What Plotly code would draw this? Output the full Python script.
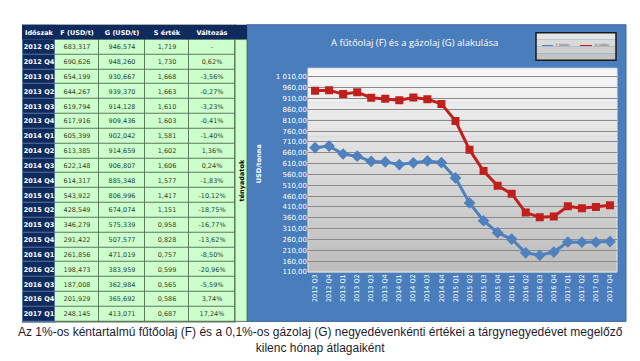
import plotly.graph_objects as go

# ---------------- data ----------------
periods = ["2012 Q3", "2012 Q4", "2013 Q1", "2013 Q2", "2013 Q3", "2013 Q4",
           "2014 Q1", "2014 Q2", "2014 Q3", "2014 Q4", "2015 Q1", "2015 Q2",
           "2015 Q3", "2015 Q4", "2016 Q1", "2016 Q2", "2016 Q3", "2016 Q4",
           "2017 Q1", "2017 Q2", "2017 Q3", "2017 Q4"]

f_vals = [683.317, 690.626, 654.199, 644.267, 619.794, 617.916, 605.399, 613.385,
          622.148, 614.317, 543.922, 428.549, 346.279, 291.422, 261.856, 198.473,
          187.008, 201.929, 248.145, 247.0, 247.0, 250.0]
g_vals = [946.574, 948.260, 930.667, 939.370, 914.128, 909.436, 902.042, 914.659,
          906.807, 885.348, 806.996, 674.074, 575.339, 507.577, 471.019, 383.959,
          362.984, 365.692, 413.071, 404.0, 410.0, 418.0]
s_vals = [1.719, 1.730, 1.668, 1.663, 1.610, 1.603, 1.581, 1.602, 1.606, 1.577,
          1.417, 1.151, 0.958, 0.828, 0.757, 0.599, 0.565, 0.586, 0.687]
change_txt = ["-", "0,62%", "-3,56%", "-0,27%", "-3,23%", "-0,41%", "-1,40%", "1,36%",
              "0,24%", "-1,83%", "-10,12%", "-18,75%", "-16,77%", "-13,62%", "-8,50%",
              "-20,96%", "-5,59%", "3,74%", "17,24%"]
n_table = len(s_vals)
table_periods = periods[:n_table]

header_labels = ["Időszak", "F (USD/t)", "G (USD/t)", "S érték", "Változás"]
y_ticks = list(range(110, 1011, 50))

# ---------------- helpers ----------------
W, H = 640, 361
def px(x): return x / W
def py(y): return 1 - y / H
def num(v): return f"{v:.3f}".replace(".", ",")
def ytick(v):
    return f"{v:,.2f}".replace(",", " ").replace(".", ",")

NAVY = "#0f2b5e"
GREEN = "#ccffcc"
CELL_TXT = "#2b432b"
PANEL = "#4a7dbb"
BLUE = "#4f81bd"
RED = "#c0201c"

fig = go.Figure()

# ---------------- table (heatmap grid) ----------------
col_w = [32, 44, 46, 44, 46]
row_h = [14] + [15] * n_table
x_edges = [0]
for w in col_w:
    x_edges.append(x_edges[-1] + w)
y_edges = [0]
for h in row_h:
    y_edges.append(y_edges[-1] + h)

body_cols = [[num(v) for v in f_vals[:n_table]],
             [num(v) for v in g_vals[:n_table]],
             [num(v) for v in s_vals],
             change_txt]

navy_z, navy_t, green_z, green_t = [], [], [], []
navy_z.append([0] * 5)
navy_t.append([f"<b>{h}</b>" for h in header_labels])
green_z.append([None] * 5)
green_t.append([""] * 5)
for i in range(n_table):
    navy_z.append([0, None, None, None, None])
    navy_t.append([f"<b>{table_periods[i]}</b>", "", "", "", ""])
    green_z.append([None, 1, 1, 1, 1])
    green_t.append([""] + [c[i] for c in body_cols])

fig.add_trace(go.Heatmap(x=x_edges, y=y_edges, z=navy_z, text=navy_t, texttemplate="%{text}",
                         textfont=dict(color="white", size=6.5, family="DejaVu Sans"),
                         colorscale=[[0, NAVY], [1, NAVY]], showscale=False,
                         xgap=1, ygap=1, xaxis="x2", yaxis="y2", hoverinfo="skip"))
fig.add_trace(go.Heatmap(x=x_edges, y=y_edges, z=green_z, text=green_t, texttemplate="%{text}",
                         textfont=dict(color=CELL_TXT, size=6.5, family="DejaVu Sans"),
                         colorscale=[[0, GREEN], [1, GREEN]], showscale=False,
                         xgap=1, ygap=1, xaxis="x2", yaxis="y2", hoverinfo="skip"))

# ---------------- chart ----------------
fig.add_trace(go.Scatter(x=periods, y=f_vals, name="F (USD/t)", mode="lines+markers",
                         line=dict(color=BLUE, width=3),
                         marker=dict(symbol="diamond", size=9, color=BLUE),
                         showlegend=False))
fig.add_trace(go.Scatter(x=periods, y=g_vals, name="G (USD/t)", mode="lines+markers",
                         line=dict(color=RED, width=3),
                         marker=dict(symbol="square", size=8, color=RED),
                         showlegend=False))

shapes = []
# table grid backgrounds
shapes.append(dict(type="rect", xref="paper", yref="paper", layer="below",
                   x0=px(22), x1=px(236), y0=py(326), y1=py(25),
                   fillcolor="#5c7a5c", line=dict(width=0)))
shapes.append(dict(type="rect", xref="paper", yref="paper", layer="below",
                   x0=px(22), x1=px(55.5), y0=py(326), y1=py(25),
                   fillcolor="#5a74a0", line=dict(width=0)))
shapes.append(dict(type="rect", xref="paper", yref="paper", layer="below",
                   x0=px(22), x1=px(236), y0=py(40), y1=py(25),
                   fillcolor=NAVY, line=dict(width=0)))
# blue chart panel
shapes.append(dict(type="rect", xref="paper", yref="paper", layer="below",
                   x0=px(247), x1=px(626), y0=py(325), y1=py(25),
                   fillcolor=PANEL, line=dict(color="#3d6aa3", width=1)))
# strip next to table
shapes.append(dict(type="rect", xref="paper", yref="paper", layer="below",
                   x0=px(235), x1=px(247), y0=py(40), y1=py(25),
                   fillcolor=NAVY, line=dict(width=0)))
shapes.append(dict(type="rect", xref="paper", yref="paper", layer="below",
                   x0=px(235), x1=px(247), y0=py(325), y1=py(40),
                   fillcolor=GREEN, line=dict(color="#5c7a5c", width=1)))
# gradient plot background
top, bot = 69, 275
nbands = 24
c0, c1 = (246, 246, 246), (190, 190, 190)
for i in range(nbands):
    t = i / (nbands - 1)
    c = tuple(int(c0[k] + (c1[k] - c0[k]) * t) for k in range(3))
    y0 = top + (bot - top) * i / nbands
    y1 = top + (bot - top) * (i + 1) / nbands
    shapes.append(dict(type="rect", xref="paper", yref="paper", layer="below",
                       x0=px(308), x1=px(617), y0=py(y1 + 0.5), y1=py(y0),
                       fillcolor="rgb(%d,%d,%d)" % c, line=dict(width=0)))
shapes.append(dict(type="rect", xref="paper", yref="paper", layer="below",
                   x0=px(308), x1=px(617), y0=py(bot), y1=py(top),
                   fillcolor="rgba(0,0,0,0)", line=dict(color="#e8e8e8", width=1)))
# legend box
for i, col in enumerate(["#e4e4e4", "#dadada", "#cfcfcf", "#c4c4c4"]):
    shapes.append(dict(type="rect", xref="paper", yref="paper", layer="below",
                       x0=px(536), x1=px(616), y0=py(33 + 7 * (i + 1)), y1=py(33 + 7 * i),
                       fillcolor=col, line=dict(width=0)))
shapes.append(dict(type="rect", xref="paper", yref="paper", layer="below",
                   x0=px(536), x1=px(616), y0=py(61), y1=py(33),
                   fillcolor="rgba(0,0,0,0)", line=dict(color="#1a1a1a", width=1.5)))
shapes.append(dict(type="line", xref="paper", yref="paper",
                   x0=px(542), x1=px(553), y0=py(46), y1=py(46),
                   line=dict(color=BLUE, width=1)))
shapes.append(dict(type="line", xref="paper", yref="paper",
                   x0=px(580), x1=px(592), y0=py(46), y1=py(46),
                   line=dict(color=RED, width=1)))

def ann(text, x, y, size, color, family="DejaVu Sans", angle=0, xanchor="center"):
    return dict(text=text, x=px(x), y=py(y), xref="paper", yref="paper", showarrow=False,
                xanchor=xanchor, yanchor="middle", textangle=angle,
                font=dict(color=color, size=size, family=family))

annotations = [
    ann("A fűtőolaj (F) és a gázolaj (G) alakulása", 414, 43, 9.5, "white", "Open Sans"),
    ann("<b>USD/tonna</b>", 259, 166, 6.5, "white", angle=-90),
    ann("<b>tényadatok</b>", 241.5, 183, 6.5, "black", angle=-90),
    ann("F (USD/t)", 554, 46, 3, "#333333", xanchor="left"),
    ann("G (USD/t)", 593, 46, 3, "#333333", xanchor="left"),
    ann("Az 1%-os kéntartalmú fűtőolaj (F) és a 0,1%-os gázolaj (G) negyedévenkénti értékei a tárgynegyedévet megelőző<br>kilenc hónap átlagaiként",
        320, 344, 12, "#1c1c30", "Liberation Sans Narrow, Arial Narrow, Liberation Sans"),
]

fig.update_layout(
    width=W, height=H,
    margin=dict(l=0, r=0, t=0, b=0),
    paper_bgcolor="white",
    plot_bgcolor="rgba(0,0,0,0)",
    shapes=shapes,
    annotations=annotations,
    xaxis=dict(domain=[px(308), px(617)], type="category", range=[-0.5, len(periods) - 0.5],
               tickangle=-90, tickfont=dict(color="white", size=6.5, family="DejaVu Sans"),
               showgrid=False, zeroline=False, showline=False, ticks=""),
    yaxis=dict(domain=[py(275), py(69)], range=[110, 1050],
               tickvals=y_ticks, ticktext=[ytick(v) for v in y_ticks],
               tickfont=dict(color="white", size=7, family="DejaVu Sans"),
               showgrid=True, gridcolor="#8a8a8a", gridwidth=1,
               zeroline=False, showline=False, ticks=""),
    xaxis2=dict(domain=[px(23), px(235)], range=[0, x_edges[-1]], visible=False,
                anchor="y2", fixedrange=True),
    yaxis2=dict(domain=[py(325), py(26)], range=[y_edges[-1], 0], visible=False,
                anchor="x2", fixedrange=True),
)

fig.write_html("out.html", config={"displayModeBar": False},
               post_script="document.body.style.margin='0';")
